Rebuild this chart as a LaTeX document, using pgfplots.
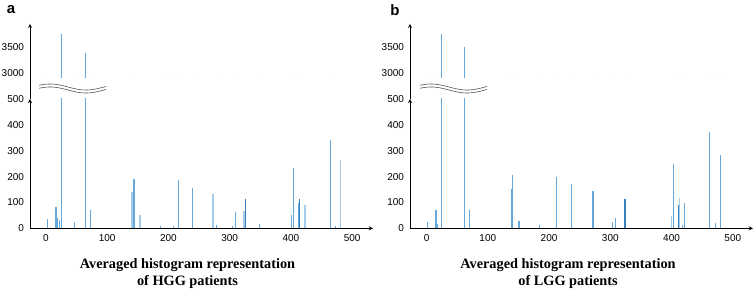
\documentclass[border=0pt]{standalone}
\usepackage{fontspec}
\setmainfont{Liberation Serif}
\setsansfont{Liberation Sans}
\usepackage{pgfplots}
\pgfplotsset{compat=1.18}
\definecolor{barmid}{HTML}{64A8DC}
\definecolor{barlight}{HTML}{A5CBEA}
\definecolor{bardark}{HTML}{3A7FC0}
\definecolor{wavegray}{HTML}{555555}

\pgfplotsset{
 brk/.style={scale only axis, width=343pt, xmin=-26, xmax=534, clip=true,
   /pgf/number format/assume math mode=true,
   /pgf/number format/1000 sep={},
   tick label style={font=\sffamily\fontsize{10}{12}\selectfont},
   major tick length=0pt,
   axis line style={-, line width=0.9pt, black},
   yticklabel style={xshift=-2.5pt},
   xticklabel style={yshift=-2.7pt},
   scaled ticks=false,
 },
 lower/.style={brk, height=129.3pt, ymin=0, ymax=500, ytick={0,100,200,300,400,500},
   xtick={0,100,200,300,400,500}, axis lines=left},
 upper/.style={brk, height=54pt, ymin=2900, ymax=3950, ytick={3000,3500},
   axis x line=none, axis y line=left, xtick=\empty},
 bar/.style={ycomb, no markers, line width=1.1pt},
}

% ---------- data ----------
\pgfplotstableread{
x y
2 35
16.5 81
19 40
22 32
25 3759
46 23
64 3377
72.5 71
143.8 190
187 9
209 9
216.5 188
240 157
279 13
305 9
310 62
348 17
401 51
404.6 233
413 97
465 341
473 9
}\hggmid
\pgfplotstableread{
x y
140.4 142
154 51
273 133
323.5 68
423 90
481 265
}\hgglight
\pgfplotstableread{
x y
326 115
414.4 115
}\hggdark
\pgfplotstableread{
x y
1 23
14.7 72
16 72
18 17
23.8 3759
62.5 3500
70.6 72
138 152
140.8 207
151 27
183.7 13
212 197
236.5 171
271.8 144
303.4 26
308.3 40
323 57
403 247
417.6 12
421.4 96
462.7 373
471.5 22
479.6 284
}\lggmid
\pgfplotstableread{
x y
399.7 46
412.7 117
}\lgglight
\pgfplotstableread{
x y
324 115
411.6 91
}\lggdark

\begin{document}
\begin{tikzpicture}[x=1pt,y=1pt]
\useasboundingbox (0,0) rectangle (755,291);

% ================= Panel a =================
\begin{axis}[lower, at={(30pt,62.7pt)}, anchor=south west]
\addplot[bar, barmid] table {\hggmid};
\addplot[bar, barlight, line width=1.6pt] table {\hgglight};
\addplot[bar, bardark] table {\hggdark};
\end{axis}
\begin{axis}[upper, at={(30pt,213.2pt)}, anchor=south west]
\addplot[bar, barmid] table {\hggmid};
\end{axis}
\draw[line width=0.9pt] (30,191.6) -- (30,213.6);
% wave break
\fill[white] plot[domain=39:106, samples=40, smooth] (\x, {204 + 3*sin(5*(\x-50)+90)})
  -- plot[domain=106:39, samples=40, smooth] (\x, {201 + 3*sin(5*(\x-50)+90)}) -- cycle;
\draw[wavegray, line width=0.6pt] plot[domain=39:106, samples=40, smooth] (\x, {204 + 3*sin(5*(\x-50)+90)});
\draw[wavegray, line width=0.6pt] plot[domain=39:106, samples=40, smooth] (\x, {201 + 3*sin(5*(\x-50)+90)});
\node[font=\sffamily\bfseries\fontsize{15}{15}\selectfont] at (11,281) {a};
\node[font=\bfseries\fontsize{14.3}{17}\selectfont, anchor=base] at (187.5,22.3)
  {Averaged histogram representation};
\node[font=\bfseries\fontsize{14.3}{17}\selectfont, anchor=base] at (187.5,5)
  {of HGG patients};

% ================= Panel b =================
\begin{axis}[lower, at={(410pt,62.7pt)}, anchor=south west, xmin=-27, xmax=533]
\addplot[bar, barmid] table {\lggmid};
\addplot[bar, barlight, line width=1.6pt] table {\lgglight};
\addplot[bar, bardark] table {\lggdark};
\end{axis}
\begin{axis}[upper, at={(410pt,213.2pt)}, anchor=south west, xmin=-27, xmax=533]
\addplot[bar, barmid] table {\lggmid};
\end{axis}
\draw[line width=0.9pt] (410,191.6) -- (410,213.6);
\fill[white] plot[domain=420:487, samples=40, smooth] (\x, {204 + 3*sin(5*(\x-431)+90)})
  -- plot[domain=487:420, samples=40, smooth] (\x, {201 + 3*sin(5*(\x-431)+90)}) -- cycle;
\draw[wavegray, line width=0.6pt] plot[domain=420:487, samples=40, smooth] (\x, {204 + 3*sin(5*(\x-431)+90)});
\draw[wavegray, line width=0.6pt] plot[domain=420:487, samples=40, smooth] (\x, {201 + 3*sin(5*(\x-431)+90)});
\node[font=\sffamily\bfseries\fontsize{15}{15}\selectfont] at (395,281) {b};
\node[font=\bfseries\fontsize{14.3}{17}\selectfont, anchor=base] at (568,22.3)
  {Averaged histogram representation};
\node[font=\bfseries\fontsize{14.3}{17}\selectfont, anchor=base] at (568,5)
  {of LGG patients};
\end{tikzpicture}
\end{document}
